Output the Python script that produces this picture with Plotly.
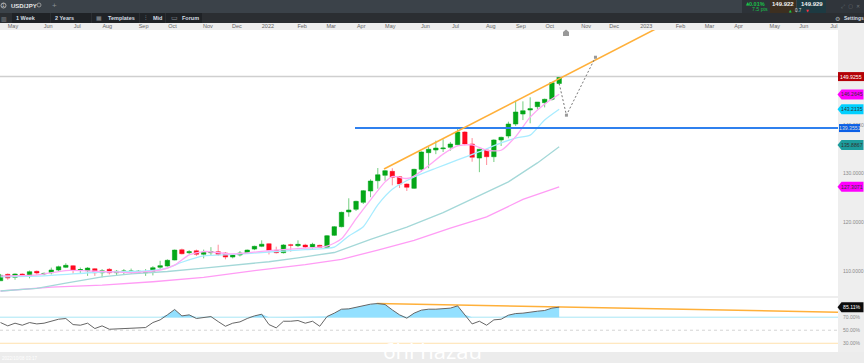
import numpy as np
import pandas as pd
import plotly.graph_objects as go

W, H = 864, 363
weeks = pd.date_range("2021-04-18", periods=78, freq="7D")

opens = [108,109.32,108.7,109.38,108.97,109.94,109.4,109.65,110.2,110.76,111.09,110.2,110.06,110.47,109.65,110.35,109.65,109.85,109.85,109.73,109.65,109.94,110.76,111.03,112.26,114.37,113.76,114.17,113.43,113.76,113.96,113.7,112.87,113.29,113.7,114.5,115.07,115.6,114.25,113.76,115.4,115.2,115.34,114.93,115.28,114.87,117.33,119.1,122.12,122.67,124.1,126.43,128.54,129.65,130.47,129.36,127.86,126.98,130.88,134.3,134.85,135.1,135.4,135.93,138.54,136.08,133.2,134.85,133.47,136.9,137.72,140.18,142.24,143.06,143.74,144.56,145.26,148.5]
highs = [109.4,109.5,109.5,109.5,110.1,110.1,109.7,110.7,111.1,111.6,111.2,110.7,110.8,110.6,110.4,110.6,110.2,110.4,110.5,110.2,110.4,111,112.1,112.4,114.4,114.6,114.3,114.4,114.4,114.9,115.4,113.9,113.5,114.1,114.4,115.2,116.3,115.7,115,115.5,115.6,116.3,115.6,115.8,115.4,117.39,119.24,122.18,124.93,124.43,126.63,128.83,131.15,130.74,131.1,129.5,128,131,134.58,135.5,136.76,137.04,136.5,139.3,138.7,137.3,135.1,135,137.04,137.58,140.66,144.97,144.84,145.67,144.7,145.4,148.67,149.95]
lows = [108,108.2,108.2,109,108.5,109.2,109.1,109.3,110,110.6,109.4,109.6,109,109,108.7,109.3,109,109.3,109.4,109.5,109,109.1,110.3,110.9,112.2,113.4,113.5,113.1,112.6,113.2,113.1,112.4,112.6,113,113.5,114.3,114.9,113.4,113.6,113.6,113.96,114.9,114.7,114.6,114.8,114.78,117.19,118.97,121.15,122.32,123.76,125.16,126.9,128.54,127.6,127.04,126.43,126.84,130.4,131.1,134,134.44,134.7,135.8,135.8,132.44,130.3,131.77,132.38,135.67,137.25,139.77,141,140.33,143.2,143.6,145,148.3]
closes = [109.12,108.56,109.38,109.1,109.86,109.59,109.5,110.2,110.88,111.17,110.2,110.3,110.6,109.65,110.06,109.65,109.94,110,110,109.94,109.8,110.68,111.09,112.2,114.3,113.55,113.96,113.43,113.84,113.96,113.43,112.87,113.29,113.7,114.3,115.07,115.5,114.25,113.76,115.34,115.28,115.48,114.93,115.48,114.87,117.25,119.1,122.05,122.53,124.31,126.49,128.48,129.77,130.6,129.24,127.86,127.19,130.88,134.44,135,135.25,135.25,136.08,138.54,136.08,133.35,135,133.47,136.9,137.45,140.18,142.65,142.92,143.33,144.7,145.26,148.67,149.9]

fast_idx = [0,5,9,14,18,22,24,26,28,32,37,42,45,47,49,51,53,54,56,57,59,61,63,65,67,69,71,73,75,77]
fast_ma = [109,109.2,110.1,109.9,109.65,110.2,111.2,113.3,114,113.5,114.2,114.7,115.1,116.6,120.7,124.6,128.3,129.4,129,129.5,131.6,134,135.7,135.9,134.8,134.8,137.6,141.6,144.3,146.3]
blue_idx = [0,6,14,20,23,25,28,32,37,42,46,48,50,52,54,57,60,63,66,69,71,73,75,77]
blue_ma = [108.8,109,109.8,110,110.6,111.8,113.1,113.4,113.9,114.4,114.9,117.2,119.1,123.6,126.8,129.3,131.1,132.8,134.5,136.3,137.3,137.9,141,143.2]
teal_idx = [0,5,9,14,18,23,28,32,37,41,46,51,56,61,67,70,74,77]
teal_ma = [105.9,106.45,107.5,108.8,109.4,109.9,110.6,111.2,111.9,112.7,113.8,116.5,119,122,126.3,128.3,132.2,135.5]
slow_idx = [0,7,14,21,28,35,42,47,52,57,62,67,72,77]
slow_ma = [105.9,106.7,107.1,107.8,108.7,110.1,111.3,112.4,114.3,116.3,118.8,121.1,124.7,127.3]

rsi = [61.8,56.7,60.8,57.7,61.8,59.7,60.8,63.8,66.9,68,58.7,57.7,60.8,52.6,56.7,51.5,52,53.1,52.6,54.1,54.1,61.8,65.9,73.6,81.8,72,73.6,68,70,71,63.3,56.1,60.8,62.8,68,72,74.6,58.7,53.6,63.8,63.8,64.9,60.8,63.8,56.1,71,76.2,82.3,82.8,85.4,88.5,90,91,89.5,81.2,73.6,68.5,76.2,80.8,82.3,82.3,82.8,83.9,87.4,73.6,59.7,63.8,57.7,65.9,66.9,73.1,75.6,76.2,78.2,79.2,80.3,83.9,85.4]

x_start, x_end = "2021-04-17 12:00", "2023-07-05"
last_price = 149.9255
blue_level = 139.3551
trend_x = ["2022-04-23", "2023-01-10"]
trend_y = [130.95, 159.7]
proj_x = ["2022-10-09", "2022-10-16", "2022-11-13"]
proj_y = [148.5, 142.0, 153.9]
rsi_trend_x = ["2022-04-16", x_end]
rsi_trend_y = [90.9, 77.7]

tick_dates = ["2021-04-30","2021-06-03","2021-07-01","2021-07-30","2021-09-03","2021-10-01","2021-11-04","2021-12-02","2022-01-01","2022-02-03","2022-03-03","2022-04-01","2022-04-29","2022-06-02","2022-07-01","2022-08-04","2022-09-02","2022-09-30","2022-11-04","2022-12-01","2023-01-01","2023-02-03","2023-03-03","2023-03-31","2023-05-05","2023-06-02","2023-07-01"]
tick_names = ["May","Jun","Jul","Aug","Sep","Oct","Nov","Dec","2022","Feb","Mar","Apr","May","Jun","Jul","Aug","Sep","Oct","Nov","Dec","2023","Feb","Mar","Apr","May","Jun","Jul"]

badges = [(149.9255, "149.9255", "#b30006", "#ffffff", "tag"),
          (146.2645, "146.2645", "#ff00ff", "#333333", "arrow"),
          (143.2135, "143.2135", "#00d0ff", "#333333", "arrow"),
          (139.3551, "139.3551", "#0a5fe6", "#dddddd", "short"),
          (135.8867, "135.8867", "#1c9c9c", "#333333", "arrow"),
          (127.3071, "127.3071", "#ff00ff", "#333333", "arrow")]

def px(v): return v / W
def py(v): return 1 - v / H

FONT = "Liberation Sans"
fig = go.Figure()

fig.add_trace(go.Scatter(x=[weeks[j] for j in slow_idx], y=slow_ma, mode="lines", line=dict(color="#ff9cf5", width=1.3), hoverinfo="skip"))
fig.add_trace(go.Scatter(x=[weeks[j] for j in teal_idx], y=teal_ma, mode="lines", line=dict(color="#a4d8d8", width=1.3), hoverinfo="skip"))
fig.add_trace(go.Scatter(x=[weeks[j] for j in blue_idx], y=blue_ma, mode="lines", line=dict(color="#a8ecff", width=1.3, shape="spline", smoothing=0.6), hoverinfo="skip"))
fig.add_trace(go.Scatter(x=[weeks[j] for j in fast_idx], y=fast_ma, mode="lines", line=dict(color="#ffa8f5", width=1.3, shape="spline", smoothing=0.6), hoverinfo="skip"))

fig.add_trace(go.Scatter(x=[x_start, x_end], y=[last_price, last_price], mode="lines", line=dict(color="#cfcfcf", width=1.5), hoverinfo="skip"))
fig.add_trace(go.Scatter(x=["2022-03-26", x_end], y=[blue_level, blue_level], mode="lines", line=dict(color="#2f80ee", width=2), hoverinfo="skip"))

fig.add_trace(go.Candlestick(x=weeks, open=opens, high=highs, low=lows, close=closes,
    whiskerwidth=0,
    increasing=dict(line=dict(color="rgba(0,166,26,0.55)", width=1), fillcolor="#05a818"),
    decreasing=dict(line=dict(color="rgba(255,0,30,0.45)", width=1), fillcolor="#ff0a20"),
    hoverinfo="skip"))

fig.add_trace(go.Scatter(x=trend_x, y=trend_y, mode="lines", line=dict(color="#ffb03a", width=1.6), hoverinfo="skip"))
fig.add_trace(go.Scatter(x=proj_x, y=proj_y, mode="lines", line=dict(color="#777777", width=1, dash="2px,2px"), hoverinfo="skip"))
fig.add_trace(go.Scatter(x=proj_x[1:], y=proj_y[1:], mode="markers", marker=dict(color="#999999", size=3, symbol="square"), hoverinfo="skip"))

base70 = [70] * len(rsi)
fig.add_trace(go.Scatter(x=weeks, y=base70, mode="lines", line=dict(width=0), yaxis="y2", hoverinfo="skip"))
fig.add_trace(go.Scatter(x=weeks, y=np.maximum(rsi, 70), mode="lines", line=dict(width=0), fill="tonexty", fillcolor="#93e0ff", yaxis="y2", hoverinfo="skip"))
fig.add_trace(go.Scatter(x=rsi_trend_x, y=rsi_trend_y, mode="lines", line=dict(color="#ffb03a", width=1.5), yaxis="y2", hoverinfo="skip"))
fig.add_trace(go.Scatter(x=weeks, y=rsi, mode="lines", line=dict(color="#666666", width=1), yaxis="y2", hoverinfo="skip"))

shapes = []
def rect(x0, y0, x1, y1, color):
    shapes.append(dict(type="rect", xref="paper", yref="paper", x0=px(x0), x1=px(x1), y0=py(y0), y1=py(y1),
                       fillcolor=color, line=dict(width=0), layer="below"))
rect(0, 0, 864, 13, "#3b4249")
rect(0, 13, 864, 23, "#2b2e32")
rect(12, 13, 50, 23, "#1f2226")
rect(51, 13, 91, 23, "#1f2226")
rect(92, 13, 139, 23, "#1f2226")
rect(140, 13, 165, 23, "#1f2226")
rect(166, 13, 202, 23, "#1f2226")
rect(742, 0, 770, 13, "#2d3238")
rect(770, 0, 796, 13, "#3d2f20")
rect(797, 0, 826, 13, "#1d3a42")
rect(826, 0, 864, 13, "#30353b")
rect(0, 23, 838, 30, "#eeeeee")
rect(838, 23, 864, 363, "#eeeeee")
rect(0, 352, 864, 363, "#ececec")
rect(0, 296.5, 838, 297.5, "#dddddd")
shapes.append(dict(type="circle", xref="paper", yref="paper", x0=px(1), x1=px(6), y0=py(3), y1=py(8), line=dict(color="#c8c8c8", width=0.8)))
shapes.append(dict(type="circle", xref="paper", yref="paper", x0=px(37), x1=px(41), y0=py(3), y1=py(7), line=dict(color="#aaaaaa", width=0.8)))
# home-shaped marker above the last candles
shapes.append(dict(type="path", xref="paper", yref="paper",
    path=f"M {px(563)} {py(36)} L {px(563)} {py(32)} L {px(566)} {py(29.5)} L {px(569)} {py(32)} L {px(569)} {py(36)} Z",
    fillcolor="#999999", line=dict(width=0)))
# reference lines of the oscillator
for lvl, col, dash in [(70, "#a9e6f5", "solid"), (50, "#d4d4d4", "dot"), (30, "#ffe2ad", "solid")]:
    shapes.append(dict(type="line", xref="paper", yref="y2", x0=0, x1=px(838), y0=lvl, y1=lvl,
                       line=dict(color=col, width=1, dash=dash), layer="below"))

PATHS = {"tag": "M 0 -4.5 L 26 -4.5 L 26 4.5 L 0 4.5 Z",
         "short": "M 0 -4 L 21 -4 L 21 4 L 0 4 Z",
         "arrow": "M -4 0 L 0 -5 L 22 -5 L 22 5 L 0 5 Z"}
ANCH = {"tag": 838, "short": 839, "arrow": 841.5}
TEXTX = {"tag": 851, "short": 849.5, "arrow": 852}

annos = []
def text(x, y, s, size=6, color="#d8dde2", bold=False, anchor="left", family=FONT):
    annos.append(dict(xref="paper", yref="paper", x=px(x), y=py(y), text=f"<b>{s}</b>" if bold else s,
                      showarrow=False, xanchor=anchor, yanchor="middle",
                      font=dict(size=size, color=color, family=family), borderpad=0))

for val, label, bg, fg, kind in badges:
    shapes.append(dict(type="path", xref="paper", yref="y", xsizemode="pixel", ysizemode="pixel",
                       xanchor=px(ANCH[kind]), yanchor=val,
                       path=PATHS[kind], fillcolor=bg, line=dict(width=0)))
    annos.append(dict(xref="paper", yref="y", x=px(TEXTX[kind]), y=val, text=label, showarrow=False,
                      xanchor="center", yanchor="middle", font=dict(size=5.2, color=fg, family=FONT)))
shapes.append(dict(type="path", xref="paper", yref="y2", xsizemode="pixel", ysizemode="pixel",
                   xanchor=px(841.5), yanchor=85.11, path=PATHS["arrow"], fillcolor="#0c0c0c", line=dict(width=0)))
annos.append(dict(xref="paper", yref="y2", x=px(852), y=85.11, text="85.11%", showarrow=False,
                  xanchor="center", yanchor="middle", font=dict(size=5.2, color="#ffffff", family=FONT)))

text(3.5, 5.5, "1", 4.5, "#c8c8c8", anchor="center")
text(10, 6, "USD/JPY", 6, "#e8e8e8", True)
text(54, 6, "+", 8, "#8a9096", anchor="center")
text(14.5, 18, "1 Week", 5.5, "#d5dde4", True)
text(54, 18, "2 Years", 5.5, "#d5dde4", True)
text(107, 18, "Templates", 5.5, "#d5dde4", True)
text(152, 18, "Mid", 5.5, "#d5dde4", True)
text(181, 18, "Forum", 5.5, "#d5dde4", True)
text(99, 18, "▦", 6, "#8a9096", anchor="center")
text(146, 18, "⫶", 6, "#8a9096", anchor="center")
text(174, 18, "▭", 7, "#8a9096", anchor="center", family="DejaVu Sans")
text(4, 18, "▥", 6, "#8a9096", anchor="center", family="DejaVu Sans")
text(748, 3.5, "▲", 4.5, "#19c24a", anchor="center", family="DejaVu Sans")
text(757, 3.5, "0.01%", 5.5, "#19c24a", True, anchor="center")
text(760, 9.5, "7.5 pts", 5.2, "#19c24a", anchor="center")
text(783, 4.5, "149.922", 6, "#f0f0f0", True, anchor="center")
text(812, 4.5, "149.929", 6, "#f0f0f0", True, anchor="center")
text(790, 10.5, "▲", 3.5, "#19c24a", anchor="center", family="DejaVu Sans")
text(798.5, 10.5, "0.7", 4.5, "#d8d8d8", anchor="center")
text(807, 10.5, "▼", 3.5, "#ff3040", anchor="center", family="DejaVu Sans")
text(840, 6, "⤢  ▢  ✕", 5, "#6c7278", anchor="left", family="DejaVu Sans")
text(837, 18, "⚙", 6, "#aab0b6", anchor="center", family="DejaVu Sans")
text(843, 18, "Settings", 5, "#d5dde4", True)
text(1, 358, "2022/10/08 03:17", 4.5, "#ffffff")
text(432, 349.5, "6hl hazau", 22, "#ffffff", anchor="center", family="Open Sans")

fig.update_layout(
    width=W, height=H, margin=dict(l=0, r=0, t=0, b=0), autosize=False, boxgap=0.12,
    paper_bgcolor="#ffffff", plot_bgcolor="rgba(0,0,0,0)", showlegend=False,
    shapes=shapes, annotations=annos, hovermode=False,
    xaxis=dict(domain=[0, px(838)], range=[x_start, x_end], side="top", anchor="y", type="date",
               tickmode="array", tickvals=tick_dates, ticktext=tick_names, ticks="", showgrid=False,
               zeroline=False, showline=False, rangeslider=dict(visible=False),
               tickfont=dict(size=5.5, color="#666666", family=FONT), tickangle=0, ticklabelstandoff=0),
    xaxis2=dict(domain=[0, px(838)], matches="x", anchor="y2", visible=False, showgrid=False),
    yaxis=dict(domain=[py(296), py(30)], range=[104.87, 159.49], side="right", anchor="x", showgrid=False,
               zeroline=False, showline=False, ticks="", tickmode="array", tickvals=[110, 120, 130, 140],
               tickformat=".4f", tickfont=dict(size=5, color="#8a8a8a", family=FONT), ticklabelstandoff=4),
    yaxis2=dict(domain=[py(352), py(297)], range=[16.6, 101], side="right", anchor="x", showgrid=False,
                zeroline=False, showline=False, ticks="", tickmode="array", tickvals=[70, 50, 30],
                ticktext=["70.00%", "50.00%", "30.00%"], tickfont=dict(size=5, color="#8a8a8a", family=FONT),
                ticklabelstandoff=4),
)
assert len(weeks) == len(opens) == len(highs) == len(lows) == len(closes) == len(rsi)
fig.write_html("out.html", config=dict(displayModeBar=False), post_script="document.body.style.margin='0';")
